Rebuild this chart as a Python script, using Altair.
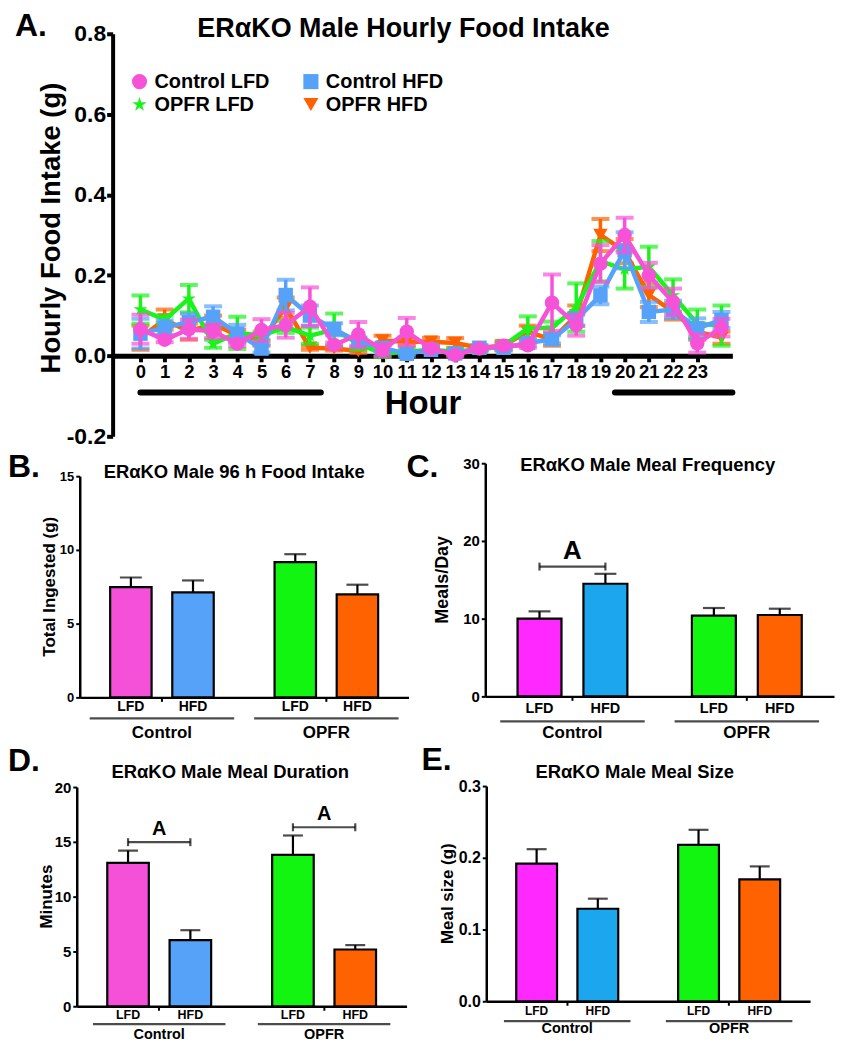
import altair as alt
import pandas as pd

FONT = "Liberation Sans"
TOTAL_W, TOTAL_H = 830, 1034

# ---------------- Panel A data ----------------
hours = list(range(25))
hour_ticks = list(range(24))
series_names = ["Control LFD", "Control HFD", "OPFR LFD", "OPFR HFD"]
series_colors = ["#F652D8", "#56A2F8", "#1BF21B", "#FF6000"]
STAR = ("M0,-1L0.2245,-0.309L0.951,-0.309L0.363,0.118L0.588,0.809L0,0.382"
        "L-0.588,0.809L-0.363,0.118L-0.951,-0.309L-0.2245,-0.309Z")
series_shapes = ["circle", "square", STAR, "triangle-down"]
legend_order = [0, 2, 1, 3]  # column-major legend -> rows: Control LFD / Control HFD, OPFR LFD / OPFR HFD

ctrl_lfd_mean = [0.066, 0.040, 0.066, 0.061, 0.030, 0.064, 0.076, 0.122, 0.027, 0.053, 0.014, 0.060, 0.018,
                 0.002, 0.018, 0.025, 0.026, 0.132, 0.076, 0.229, 0.300, 0.200, 0.134, 0.031, 0.070]
ctrl_lfd_sem = [0.036, 0.006, 0.024, 0.017, 0.006, 0.027, 0.031, 0.048, 0.006, 0.031, 0.015, 0.034, 0.005,
                0.004, 0.005, 0.006, 0.006, 0.070, 0.026, 0.046, 0.043, 0.031, 0.033, 0.023, 0.022]
ctrl_hfd_mean = [0.055, 0.070, 0.084, 0.097, 0.055, 0.018, 0.151, 0.100, 0.066, 0.035, 0.020, 0.005, 0.015,
                 0.006, 0.020, 0.020, 0.032, 0.041, 0.090, 0.150, 0.262, 0.109, 0.115, 0.068, 0.089]
ctrl_hfd_sem = [0.037, 0.018, 0.021, 0.026, 0.022, 0.010, 0.038, 0.025, 0.015, 0.010, 0.008, 0.006, 0.006,
                0.005, 0.006, 0.006, 0.008, 0.010, 0.016, 0.022, 0.045, 0.025, 0.022, 0.025, 0.020]
opfr_lfd_mean = [0.115, 0.090, 0.142, 0.030, 0.057, 0.050, 0.072, 0.050, 0.065, 0.030, 0.005, 0.010, 0.015,
                 0.010, 0.015, 0.025, 0.068, 0.070, 0.120, 0.235, 0.215, 0.221, 0.150, 0.080, 0.075]
opfr_lfd_sem = [0.035, 0.010, 0.034, 0.010, 0.040, 0.010, 0.015, 0.020, 0.040, 0.015, 0.008, 0.006, 0.006,
                0.006, 0.006, 0.008, 0.030, 0.015, 0.060, 0.050, 0.048, 0.050, 0.040, 0.035, 0.050]
opfr_hfd_mean = [0.045, 0.090, 0.060, 0.080, 0.050, 0.040, 0.120, 0.020, 0.018, 0.012, 0.038, 0.035, 0.035,
                 0.032, 0.020, 0.025, 0.060, 0.040, 0.100, 0.300, 0.260, 0.151, 0.110, 0.060, 0.045]
opfr_hfd_sem = [0.030, 0.025, 0.020, 0.020, 0.015, 0.015, 0.025, 0.005, 0.005, 0.005, 0.012, 0.010, 0.010,
                0.012, 0.006, 0.012, 0.015, 0.015, 0.025, 0.040, 0.030, 0.030, 0.020, 0.020, 0.015]

series_means = [ctrl_lfd_mean, ctrl_hfd_mean, opfr_lfd_mean, opfr_hfd_mean]
series_sems = [ctrl_lfd_sem, ctrl_hfd_sem, opfr_lfd_sem, opfr_hfd_sem]

dark_start = [0.0, 19.6]
dark_end = [7.45, 24.45]

# ---------------- Bar panel data ----------------
groups = ["Control", "Control", "OPFR", "OPFR"]
diets = ["LFD", "HFD", "LFD", "HFD"]
colors_bd = ["#F550D8", "#56A2F8", "#11F511", "#FF6200"]
colors_ce = ["#FF28FF", "#1CA6EE", "#11F511", "#FF6200"]

B_mean = [7.48, 7.12, 9.17, 6.98]
B_sem = [0.65, 0.81, 0.54, 0.66]
C_mean = [10.0, 14.49, 10.38, 10.47]
C_sem = [0.94, 1.28, 0.99, 0.81]
D_mean = [13.09, 6.03, 13.82, 5.18]
D_sem = [1.11, 0.91, 1.76, 0.40]
E_mean = [0.192, 0.129, 0.218, 0.170]
E_sem = [0.020, 0.014, 0.021, 0.018]

C_bracket_groups = ["Control"]
C_bracket_y = [16.7]
D_bracket_groups = ["Control", "OPFR"]
D_bracket_y = [14.97, 16.33]


def text_layer(txt, x, y, size, align="center", angle=0):
    return alt.Chart(pd.DataFrame({"t": [txt]})).mark_text(
        font=FONT, fontSize=size, fontWeight="bold", color="black", align=align, baseline="middle",
        angle=angle
    ).encode(x=alt.value(x), y=alt.value(y), text="t:N")


# ---------------- Panel A (plot box: x 105..727, y 24..428 inside the view) ----------------
AX0, AX1, AY0, AY1 = 105, 727, 24, 428
xsA = alt.Scale(domain=[-1.15, 24.45], range=[AX0, AX1], nice=False, zero=False)
ysA = alt.Scale(domain=[-0.2, 0.8], range=[AY1, AY0], nice=False, zero=False)
y_zero_px = AY1 - (AY1 - AY0) * 0.2 / 1.0
xaxA = alt.Axis(title="Hour", orient="bottom", offset=y_zero_px - TOTAL_H, values=hour_ticks,
                labelFont=FONT, labelFontSize=18.5, labelFontWeight="bold", labelColor="black",
                labelOverlap=False, labelPadding=1, labelFlush=False, tickSize=6, tickWidth=4,
                tickColor="black", domainWidth=5, domainColor="black", titleFont=FONT, titleFontSize=33,
                titleFontWeight="bold", titleColor="black", titlePadding=6, grid=False)
yaxA = alt.Axis(title=None, orient="left", offset=-AX0,
                values=[-0.2, 0, 0.2, 0.4, 0.6, 0.8], format=".1f",
                labelExpr="replace(datum.label, '\u2212', '-')",
                labelFont=FONT, labelFontSize=23, labelFontWeight="bold", labelColor="black",
                labelPadding=1, tickSize=6, tickWidth=4, tickColor="black", domainWidth=4,
                domainColor="black", grid=False)
legA = alt.Legend(title=None, orient="none", legendX=122, legendY=62, columns=2, labelFont=FONT,
                  labelFontSize=20, labelFontWeight="bold", labelColor="black", symbolSize=230,
                  columnPadding=31, rowPadding=3, labelOffset=5, padding=0)

XA = alt.X("hour:Q", scale=xsA, axis=xaxA)
leg_names = [series_names[i] for i in legend_order]
leg_colors = [series_colors[i] for i in legend_order]
leg_shapes = [series_shapes[i] for i in legend_order]

dark_df = pd.DataFrame({"start": dark_start, "end": dark_end})
dark_layer = alt.Chart(dark_df).mark_rule(strokeWidth=6, strokeCap="round", color="black").encode(
    x=alt.X("start:Q", scale=xsA, axis=xaxA), x2="end:Q", y=alt.value(384))

series_layers = []
for i in [3, 2, 1, 0]:
    m, s = series_means[i], series_sems[i]
    df = pd.DataFrame({"hour": hours, "mean": m,
                       "lo": [a - b for a, b in zip(m, s)],
                       "hi": [a + b for a, b in zip(m, s)],
                       "cond": series_names[i]})
    c = series_colors[i]
    base = alt.Chart(df)
    err = base.mark_rule(strokeWidth=3.5, color=c).encode(
        x=XA, y=alt.Y("lo:Q", scale=ysA, axis=yaxA), y2="hi:Q")
    cap_hi = base.mark_tick(orient="horizontal", size=18, thickness=4, color=c).encode(
        x=XA, y=alt.Y("hi:Q", scale=ysA, axis=yaxA))
    cap_lo = base.mark_tick(orient="horizontal", size=18, thickness=4, color=c).encode(
        x=XA, y=alt.Y("lo:Q", scale=ysA, axis=yaxA))
    line = base.mark_line(strokeWidth=4.5, color=c).encode(
        x=XA, y=alt.Y("mean:Q", scale=ysA, axis=yaxA))
    pts = base.mark_point(filled=True, size=210, opacity=1).encode(
        x=XA, y=alt.Y("mean:Q", scale=ysA, axis=yaxA),
        color=alt.Color("cond:N", scale=alt.Scale(domain=leg_names, range=leg_colors), legend=legA),
        shape=alt.Shape("cond:N", scale=alt.Scale(domain=leg_names, range=leg_shapes), legend=legA))
    series_layers += [err, cap_hi, cap_lo, line, pts]

panelA = alt.layer(
    dark_layer, *series_layers,
    text_layer("ERαKO Male Hourly Food Intake", 397, 19, 27),
    text_layer("A.", 7, 16, 32, align="left"),
    text_layer("Hourly Food Intake (g)", 44, 219, 27.5, angle=270),
)


# ---------------- Bar panels ----------------
def bar_panel(p):
    x0, x1, ytop, ybot = p["x0"], p["x1"], p["ytop"], p["ybot"]
    W = x1 - x0
    rows = []
    for g, d, m, s, col in zip(groups, diets, p["mean"], p["sem"], p["colors"]):
        rows.append({"group": g, "diet": d, "mean": m, "hi": m + s, "col": col})
    df = pd.DataFrame(rows)
    xs = alt.Scale(domain=["Control", "OPFR"], range=[x0, x1], paddingInner=0.37, paddingOuter=0.185)
    xos = alt.Scale(domain=["LFD", "HFD"], paddingInner=0.333, paddingOuter=0)
    ys = alt.Scale(domain=[0, p["ymax"]], range=[ybot, ytop], nice=False, zero=True)
    xax = alt.Axis(title=None, orient="bottom", offset=ybot - TOTAL_H, labelAngle=0,
                   labelPadding=p["glp"], labelFont=FONT, labelFontSize=p["gfs"], labelFontWeight="bold",
                   labelColor="black", tickSize=4, tickWidth=2, tickColor="black", domainWidth=2.5,
                   domainColor="black", grid=False)
    yax = alt.Axis(title=None, orient="left", offset=-x0, values=p["yvals"], format=p["fmt"],
                   labelFont=FONT, labelFontSize=p["tfs"], labelFontWeight="bold", labelColor="black",
                   labelPadding=2, tickSize=4, tickWidth=2, tickColor="black", domainWidth=2.5,
                   domainColor="black", grid=False)
    X = alt.X("group:N", scale=xs, axis=xax)
    XO = alt.XOffset("diet:N", scale=xos)
    base = alt.Chart(df)
    bars = base.mark_bar(stroke="black", strokeWidth=2.2).encode(
        x=X, xOffset=XO, y=alt.Y("mean:Q", scale=ys, axis=yax, stack=None),
        fill=alt.Fill("col:N", scale=None))
    err = base.mark_rule(color="black", strokeWidth=2.2).encode(
        x=X, xOffset=XO, y=alt.Y("mean:Q", scale=ys, axis=yax), y2="hi:Q")
    cap = base.mark_tick(orient="horizontal", size=p["capw"], thickness=2.2, color="black").encode(
        x=X, xOffset=XO, y=alt.Y("hi:Q", scale=ys, axis=yax))
    diet_lbl = base.mark_text(font=FONT, fontSize=p["dfs"], fontWeight="bold", color="black",
                              baseline="middle").encode(
        x=X, xOffset=XO, y=alt.value(p["dy"]), text="diet:N")
    gdf = pd.DataFrame({"group": ["Control", "OPFR"]})
    underline = alt.Chart(gdf).mark_tick(orient="horizontal", size=p["ul"], thickness=2.2,
                                         color="black").encode(x=X, y=alt.value(p["uy"]))
    layers = [bars, err, cap, diet_lbl, underline]
    if p.get("br_groups"):
        bdf = pd.DataFrame({"group": p["br_groups"], "y": p["br_y"], "t": ["A"] * len(p["br_groups"])})
        sub = W / 2 * 0.63 / 1.667
        hline = alt.Chart(bdf).mark_tick(orient="horizontal", size=sub, thickness=2.2, color="black").encode(
            x=X, y=alt.Y("y:Q", scale=ys, axis=yax))
        crow = []
        for g, yv in zip(p["br_groups"], p["br_y"]):
            for d in ["LFD", "HFD"]:
                crow.append({"group": g, "diet": d, "y": yv})
        ends = alt.Chart(pd.DataFrame(crow)).mark_tick(orient="vertical", size=8, thickness=2.2,
                                                        color="black").encode(
            x=X, xOffset=XO, y=alt.Y("y:Q", scale=ys, axis=yax))
        atext = alt.Chart(bdf).mark_text(font=FONT, fontSize=p["afs"], fontWeight="bold", color="black",
                                         baseline="middle", dy=p["ady"]).encode(
            x=X, y=alt.Y("y:Q", scale=ys, axis=yax), text="t:N")
        layers += [hline, ends, atext]
    layers += [text_layer(p["title"], p["tx"], p["ty"], 18.5),
               text_layer(p["letter"], p["lx"], p["ly"], 32, align="left"),
               text_layer(p["ytitle"], p["ytx"], (ytop + ybot) / 2, p["ytfs"], angle=270)]
    return alt.layer(*layers)


panelB = bar_panel(dict(x0=72, x1=402, ytop=468, ybot=690, mean=B_mean, sem=B_sem, colors=colors_bd, ymax=15,
                        yvals=[0, 5, 10, 15], fmt=".0f", tfs=13, ytitle="Total Ingested (g)", ytfs=17, ytx=42,
                        title="ERαKO Male 96 h Food Intake", tx=227, ty=464, letter="B.", lx=0, ly=459,
                        dfs=14, dy=700, ul=145, uy=711, glp=23, gfs=17, capw=22))
panelC = bar_panel(dict(x0=479, x1=829, ytop=455, ybot=689, mean=C_mean, sem=C_sem, colors=colors_ce, ymax=30,
                        yvals=[0, 10, 20, 30], fmt=".0f", tfs=15, ytitle="Meals/Day", ytfs=18, ytx=437,
                        title="ERαKO Male Meal Frequency", tx=642, ty=457, letter="C.", lx=400, ly=459,
                        dfs=14.5, dy=702, ul=145, uy=714, glp=24, gfs=17, capw=22,
                        br_groups=C_bracket_groups, br_y=C_bracket_y, afs=26, ady=-16))
panelD = bar_panel(dict(x0=69, x1=400, ytop=780, ybot=1000, mean=D_mean, sem=D_sem, colors=colors_bd, ymax=20,
                        yvals=[0, 5, 10, 15, 20], fmt=".0f", tfs=15, ytitle="Minutes", ytfs=17, ytx=39,
                        title="ERαKO Male Meal Duration", tx=223, ty=765, letter="D.", lx=0, ly=754,
                        dfs=12.5, dy=1009, ul=133, uy=1018, glp=17, gfs=14.5, capw=20,
                        br_groups=D_bracket_groups, br_y=D_bracket_y, afs=20, ady=-13))
panelE = bar_panel(dict(x0=480, x1=805, ytop=779, ybot=995, mean=E_mean, sem=E_sem, colors=colors_ce, ymax=0.3,
                        yvals=[0, 0.1, 0.2, 0.3], fmt=".1f", tfs=16, ytitle="Meal size (g)", ytfs=17, ytx=442,
                        title="ERαKO Male Meal Size", tx=629, ty=765, letter="E.", lx=415, ly=753,
                        dfs=12, dy=1005, ul=127, uy=1015, glp=16, gfs=14.5, capw=20))

chart = alt.layer(panelA, panelB, panelC, panelD, panelE).resolve_scale(
    x="independent", y="independent", xOffset="independent", color="independent", shape="independent"
).resolve_axis(
    x="independent", y="independent"
).properties(
    width=TOTAL_W, height=TOTAL_H, padding=0, autosize=alt.AutoSizeParams(type="none")
).configure_view(stroke=None).configure_axis(
    grid=False, labelFont=FONT, titleFont=FONT, labelFontWeight="bold", titleFontWeight="bold",
    labelColor="black", titleColor="black", domainColor="black", tickColor="black")

chart.save("out.html", embed_options={"renderer": "svg", "actions": False})
